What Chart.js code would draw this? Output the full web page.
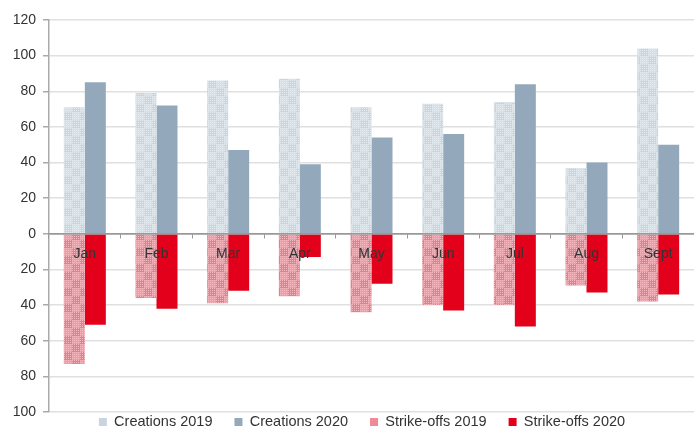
<!DOCTYPE html>
<html>
<head>
<meta charset="utf-8">
<script src="https://cdn.jsdelivr.net/npm/chart.js@4/dist/chart.umd.min.js"></script>
<style>
  html, body { margin: 0; padding: 0; background: #fff; }
  #wrap { width: 694px; height: 428px; position: relative; }
</style>
</head>
<body>
<div id="wrap"><canvas id="c"></canvas></div>
<script>
// ---- data ----
const months = ['Jan', 'Feb', 'Mar', 'Apr', 'May', 'Jun', 'Jul', 'Aug', 'Sept'];
const creations2019 = [71, 79, 86, 87, 71, 73, 74, 37, 104];
const creations2020 = [85, 72, 47, 39, 54, 56, 84, 40, 50];
const strikeoffs2019 = [73, 36, 39, 35, 44, 40, 40, 29, 38];
const strikeoffs2020 = [51, 42, 32, 13, 28, 43, 52, 33, 34];
const seriesNames = ['Creations 2019', 'Creations 2020', 'Strike-offs 2019', 'Strike-offs 2020'];
const yTicks = [-100, -80, -60, -40, -20, 0, 20, 40, 60, 80, 100, 120];

// ---- patterns ----
function makeChecker(c1, c2, dot) {
  const cv = document.createElement('canvas');
  cv.width = 16; cv.height = 16;
  const g = cv.getContext('2d');
  for (let y = 0; y < 16; y++) {
    for (let x = 0; x < 16; x++) {
      const sq = ((Math.floor(x / 8) + Math.floor(y / 8)) % 2 === 0);
      g.fillStyle = sq ? c1 : c2;
      if ((x % 2 === 0) && (y % 2 === 0)) g.fillStyle = dot;
      g.fillRect(x, y, 1, 1);
    }
  }
  return g.createPattern(cv, 'repeat');
}
const ctx = document.getElementById('c').getContext('2d');
const blueLight = makeChecker('#c9d6e1', '#d6e0e8', '#e4ebf0');
const pinkLight = makeChecker('#ef7a8b', '#f39aa6', '#f7b7bf');
const solidColors = ['#c8d5e0', '#93a9bb', '#f08a98', '#e2001a'];

const LEGEND_H = 16;
const LEGEND_PAD = 22;
const LEGEND_FONT = 14.5;
const LEGEND_SHIFT = 15;
const legendFit = {
  id: 'legendFit',
  beforeLayout(chart) {
    const lg = chart.legend;
    if (lg && !lg._fitPatched) {
      const orig = lg.fit;
      lg.fit = function () { orig.call(this); this.height = LEGEND_H; };
      lg._fitPatched = true;
    }
  },
  afterLayout(chart) {
    const lg = chart.legend;
    if (lg) {
      lg.top = 422 - LEGEND_PAD - LEGEND_FONT / 2;
      lg.bottom = chart.height;
      lg.left += LEGEND_SHIFT;
      lg.right += LEGEND_SHIFT;
    }
  }
};

new Chart(ctx, {
  type: 'bar',
  data: {
    labels: months,
    datasets: [
      { label: seriesNames[0], data: creations2019, backgroundColor: blueLight, stack: 's2019' },
      { label: seriesNames[1], data: creations2020, backgroundColor: '#93a9bb', stack: 's2020' },
      { label: seriesNames[2], data: strikeoffs2019.map(v => -v), backgroundColor: pinkLight, stack: 's2019' },
      { label: seriesNames[3], data: strikeoffs2020.map(v => -v), backgroundColor: '#e2001a', stack: 's2020' }
    ]
  },
  options: {
    responsive: true,
    maintainAspectRatio: false,
    animation: false,
    categoryPercentage: 0.586,
    barPercentage: 1.0,
    layout: { padding: { top: 20, right: 0, left: 0, bottom: 0 } },
    plugins: {
      tooltip: { enabled: false },
      legend: {
        position: 'bottom',
        labels: {
          boxWidth: 8,
          boxHeight: 8,
          padding: LEGEND_PAD,
          color: '#333',
          font: { family: 'Liberation Sans, Arial, sans-serif', size: LEGEND_FONT },
          generateLabels(chart) {
            const items = Chart.defaults.plugins.legend.labels.generateLabels(chart);
            items.forEach((it, i) => { it.fillStyle = solidColors[i]; it.strokeStyle = solidColors[i]; it.lineWidth = 0; });
            return items;
          }
        }
      }
    },
    scales: {
      x: {
        stacked: true,
        position: { y: 0 },
        grid: { drawOnChartArea: false, offset: true, tickLength: 4, tickColor: '#999', z: 1 },
        border: { color: '#999', width: 1.5, z: 1 },
        ticks: {
          z: 1,
          color: '#333',
          padding: 8,
          font: { family: 'Liberation Sans, Arial, sans-serif', size: 14 }
        }
      },
      y: {
        stacked: true,
        min: yTicks[0],
        max: yTicks[yTicks.length - 1],
        afterFit(scale) { scale.width = 49; },
        afterBuildTicks(scale) { scale.ticks = yTicks.map(v => ({ value: v })); },
        grid: {
          color: c => (c.tick && c.tick.value === 0) ? '#999' : '#e0e0e0',
          lineWidth: 1.5,
          tickLength: 6,
          tickColor: '#aaa'
        },
        border: { color: '#aaa', width: 1.5 },
        ticks: {
          color: '#333',
          padding: 7,
          font: { family: 'Liberation Sans, Arial, sans-serif', size: 14 },
          callback: v => Math.abs(v)
        }
      }
    }
  },
  plugins: [legendFit]
});
</script>
</body>
</html>
